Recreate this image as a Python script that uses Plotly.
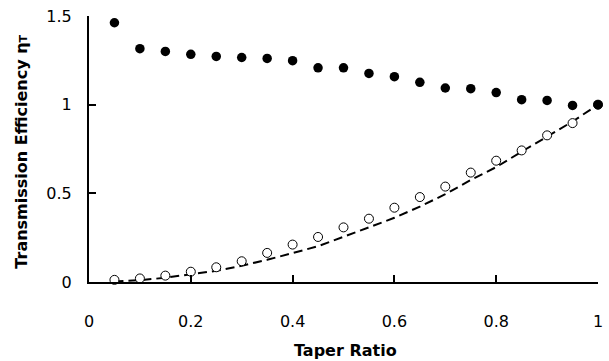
import plotly.graph_objects as go

taper_ratio = [0.05, 0.10, 0.15, 0.20, 0.25, 0.30, 0.35, 0.40, 0.45, 0.50,
               0.55, 0.60, 0.65, 0.70, 0.75, 0.80, 0.85, 0.90, 0.95, 1.00]

eff_filled = [1.462, 1.316, 1.300, 1.284, 1.272, 1.266, 1.261, 1.248, 1.208, 1.208,
              1.176, 1.158, 1.126, 1.094, 1.090, 1.068, 1.028, 1.024, 0.996, 1.000]

eff_open = [0.012, 0.020, 0.036, 0.058, 0.083, 0.117, 0.164, 0.211, 0.254, 0.308,
            0.357, 0.419, 0.479, 0.538, 0.617, 0.684, 0.742, 0.827, 0.896, 1.000]

theory_x = [0.05, 0.10, 0.15, 0.20, 0.25, 0.30, 0.35, 0.40, 0.45, 0.50,
            0.55, 0.60, 0.65, 0.70, 0.75, 0.80, 0.85, 0.90, 0.95, 1.00]
theory_y = [0.003, 0.010, 0.024, 0.042, 0.063, 0.092, 0.125, 0.163, 0.202, 0.255,
            0.310, 0.362, 0.425, 0.495, 0.575, 0.648, 0.735, 0.820, 0.905, 1.000]

x_ticks = [0, 0.2, 0.4, 0.6, 0.8, 1]
x_tick_text = ["0", "0.2", "0.4", "0.6", "0.8", "1"]
y_ticks = [0, 0.5, 1, 1.5]
y_tick_text = ["0", "0.5", "1", "1.5"]

fig = go.Figure()
fig.add_trace(go.Scatter(
    x=theory_x, y=theory_y, mode="lines",
    line=dict(color="black", width=2, dash="9px,5px"),
    showlegend=False, cliponaxis=False))
fig.add_trace(go.Scatter(
    x=taper_ratio, y=eff_open, mode="markers",
    marker=dict(symbol="circle", size=9, color="white",
                line=dict(color="black", width=1)),
    showlegend=False, cliponaxis=False))
fig.add_trace(go.Scatter(
    x=taper_ratio, y=eff_filled, mode="markers",
    marker=dict(symbol="circle", size=9.5, color="black",
                line=dict(color="black", width=0)),
    showlegend=False, cliponaxis=False))

tick_font = dict(family="DejaVu Sans", size=16, color="black")
title_font = dict(family="DejaVu Sans", size=16, color="black", weight="bold")

fig.update_layout(
    width=609, height=361,
    margin=dict(l=89, r=6, t=16, b=79),
    paper_bgcolor="white", plot_bgcolor="white",
    xaxis=dict(range=[0, 1], tickvals=x_ticks, ticktext=x_tick_text,
               ticks="inside", ticklen=7, tickwidth=1.5, tickcolor="black",
               showline=True, linecolor="black", linewidth=2,
               showgrid=False, zeroline=False, tickfont=tick_font,
               ticklabelstandoff=24),
    yaxis=dict(range=[0, 1.5], tickvals=y_ticks, ticktext=y_tick_text,
               ticks="inside", ticklen=7, tickwidth=1.5, tickcolor="black",
               showline=True, linecolor="black", linewidth=2,
               showgrid=False, zeroline=False, tickfont=tick_font,
               ticklabelstandoff=12),
    annotations=[
        dict(text="Transmission Efficiency η<span style='font-size:11px'>T</span>",
             xref="paper", yref="paper", x=0, y=0.49, xshift=-67, textangle=-90,
             xanchor="center", yanchor="middle", showarrow=False,
             font=title_font),
        dict(text="Taper Ratio",
             xref="paper", yref="paper", x=0.504, y=0, yshift=-68,
             xanchor="center", yanchor="middle", showarrow=False,
             font=title_font),
    ],
)

fig.write_html("out.html",
               config={"displayModeBar": False},
               post_script="document.body.style.margin='0';document.body.style.overflow='hidden';")
